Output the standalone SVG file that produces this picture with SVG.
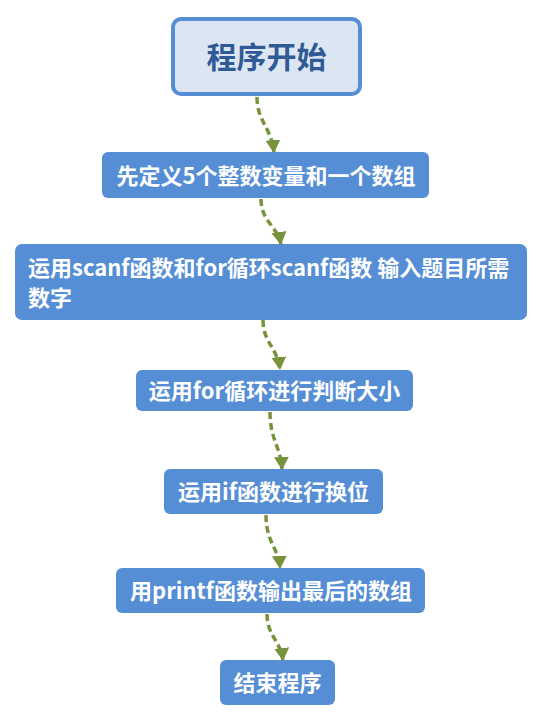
<svg xmlns="http://www.w3.org/2000/svg" width="543" height="722" viewBox="0 0 543 722">
<style>
.box{fill:#558ed5;}
.t{font-family:"Noto Sans CJK SC","Noto Sans",sans-serif;font-weight:bold;font-size:22px;fill:#ffffff;}
.c{text-anchor:middle;}
.conn{fill:none;stroke:#77933c;stroke-width:3.5;stroke-dasharray:7 4;}
</style>
<defs>
<marker id="ah" markerUnits="userSpaceOnUse" markerWidth="14" markerHeight="16" refX="13" refY="7.5" orient="auto" viewBox="0 0 14 16">
<path d="M0,0 L13,7.5 L0,15 z" fill="#77933c"/>
</marker>
</defs>
<rect width="543" height="722" fill="#ffffff"/>
<g id="connectors">
<path class="conn" marker-end="url(#ah)" d="M257 97 C257 122, 272 128, 274 153"/>
<path class="conn" marker-end="url(#ah)" d="M261 199 C261 222, 278 226, 281 245"/>
<path class="conn" marker-end="url(#ah)" d="M263 320 C263 343, 278 348, 280 370"/>
<path class="conn" marker-end="url(#ah)" d="M270 412 C270 440, 281 447, 282 470"/>
<path class="conn" marker-end="url(#ah)" d="M266 515 C266 543, 279 548, 280 569"/>
<path class="conn" marker-end="url(#ah)" d="M267 614 C267 636, 281 641, 283 661"/>
</g>
<g id="start">
<rect x="173" y="19" width="187" height="75" rx="8" fill="#dce6f2" stroke="#558ed5" stroke-width="4"/>
<text class="t c" x="266.5" y="68" style="font-size:30px;fill:#2f5a96">程序开始</text>
</g>
<g id="n1">
<rect class="box" x="102" y="152" width="327" height="46" rx="6"/>
<text class="t c" x="266" y="184">先定义5个整数变量和一个数组</text>
</g>
<g id="n2">
<rect class="box" x="15" y="244" width="512" height="76" rx="7"/>
<text class="t" x="28" y="276">运用scanf函数和for循环scanf函数 输入题目所需</text>
<text class="t" x="28" y="306">数字</text>
</g>
<g id="n3">
<rect class="box" x="136" y="370" width="277" height="41" rx="6"/>
<text class="t c" x="274.5" y="399">运用for循环进行判断大小</text>
</g>
<g id="n4">
<rect class="box" x="164" y="469" width="219" height="45" rx="6"/>
<text class="t c" x="273.5" y="500">运用if函数进行换位</text>
</g>
<g id="n5">
<rect class="box" x="116" y="568" width="309" height="45" rx="6"/>
<text class="t c" x="271" y="599">用printf函数输出最后的数组</text>
</g>
<g id="n6">
<rect class="box" x="220" y="660" width="115" height="45" rx="6"/>
<text class="t c" x="277.5" y="691">结束程序</text>
</g>
</svg>
